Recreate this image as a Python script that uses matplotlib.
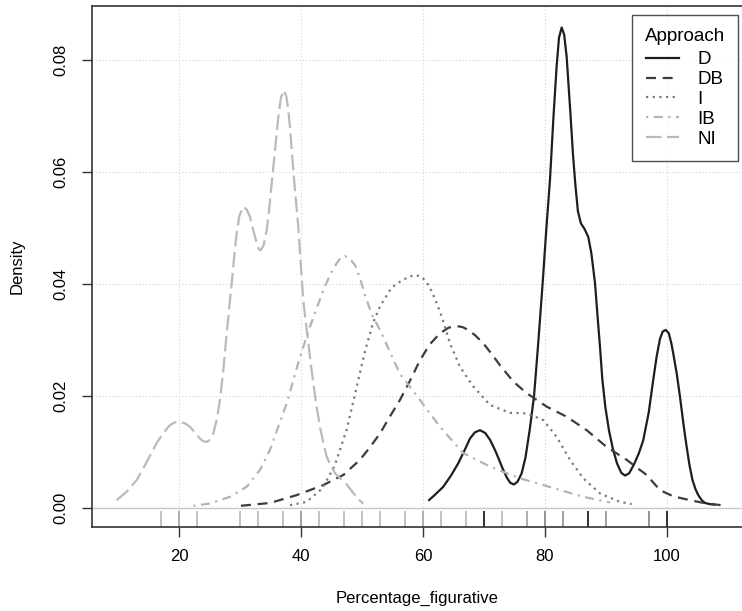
import matplotlib
matplotlib.use("Agg")
import matplotlib.pyplot as plt
from matplotlib.lines import Line2D
import matplotlib.transforms as mtransforms

plt.rcParams['font.family'] = ['Liberation Sans', 'DejaVu Sans']

# ---------------- data ----------------
groups = ["D", "DB", "I", "IB", "NI"]

d_x = [60.87, 62.0, 63.33, 64.6, 65.79, 66.9, 67.7, 68.5, 69.34, 70.2, 70.98, 71.7, 72.34, 73.0,
       73.72, 74.3, 74.9, 75.5, 76.18, 76.8, 77.5, 78.2, 78.9, 79.62, 80.2, 80.82, 81.4, 81.92,
       82.3, 82.74, 83.15, 83.56, 84.2, 84.6, 85.0, 85.4, 85.9, 86.5, 87.1, 87.6, 88.2, 88.6,
       89.02, 89.4, 89.9, 90.5, 91.15, 91.8, 92.5, 93.11, 93.8, 94.6, 95.4, 96.11, 97.0, 97.75,
       98.3, 98.85, 99.3, 99.79, 100.3, 100.7, 101.03, 101.6, 102.13, 102.7, 103.23, 103.7,
       104.18, 104.7, 105.13, 105.7, 106.23, 107.0, 107.9]
d_y = [0.0013, 0.0024, 0.0038, 0.0058, 0.0080, 0.0105, 0.0124, 0.0135, 0.0139, 0.0134, 0.0122,
       0.0106, 0.0090, 0.0072, 0.0055, 0.0045, 0.0042, 0.0047, 0.0062, 0.0090, 0.0140, 0.0199,
       0.0295, 0.0402, 0.0495, 0.0586, 0.0700, 0.0790, 0.0840, 0.0858, 0.0845, 0.0805, 0.0700,
       0.0630, 0.0575, 0.0530, 0.0508, 0.0498, 0.0484, 0.0455, 0.0402, 0.0345, 0.0288, 0.0230,
       0.0180, 0.0138, 0.0105, 0.0080, 0.0063, 0.0058, 0.0062, 0.0078, 0.0098, 0.0121, 0.0170,
       0.0229, 0.0270, 0.0302, 0.0315, 0.0318, 0.0312, 0.0295, 0.0276, 0.0240, 0.0199, 0.0150,
       0.0109, 0.0076, 0.0050, 0.0033, 0.0023, 0.0014, 0.0009, 0.0007, 0.0006]

db_x = [30.16, 34.92, 39.29, 43.66, 46.94, 49.67, 51.2, 52.95, 54.5, 56.23, 58.0, 59.51, 61.1,
        62.79, 64.2, 65.52, 66.5, 67.43, 68.6, 69.89, 71.2, 72.62, 74.80, 77.0, 80.28, 83.56,
        86.84, 90.11, 93.39, 96.67, 98.85, 101.0, 103.77, 106.5, 109.79]
db_y = [0.0004, 0.0009, 0.0023, 0.0041, 0.0059, 0.0086, 0.0107, 0.0133, 0.0162, 0.0193, 0.0230,
        0.0264, 0.0292, 0.0312, 0.0322, 0.0325, 0.0323, 0.0318, 0.0308, 0.0294, 0.0276, 0.0255,
        0.0226, 0.0205, 0.0181, 0.0163, 0.0139, 0.0109, 0.0086, 0.0059, 0.0032, 0.0021, 0.0014,
        0.0008, 0.0004]

i_x = [38.2, 40.93, 43.5, 45.5, 47.5, 49.0, 50.5, 51.8, 52.95, 54.59, 55.4, 56.23, 57.5, 58.69,
       59.5, 60.33, 61.0, 61.69, 62.4, 63.07, 64.43, 66.07, 68.25, 70.98, 74.26, 77.0, 79.72,
       81.92, 84.10, 86.28, 89.02, 92.30, 94.21]
i_y = [0.0005, 0.0011, 0.0035, 0.0075, 0.0140, 0.0210, 0.0280, 0.0330, 0.0360, 0.0389, 0.0398,
       0.0404, 0.0412, 0.0416, 0.0414, 0.0407, 0.0396, 0.0380, 0.0362, 0.0342, 0.0294, 0.0252,
       0.0217, 0.0184, 0.0170, 0.0169, 0.0157, 0.0127, 0.0086, 0.0053, 0.0026, 0.0011, 0.0007]

ib_x = [22.35, 25.08, 28.36, 31.1, 33.28, 34.92, 37.66, 39.84, 41.48, 43.66, 44.8, 45.85, 46.5,
        47.2, 48.0, 48.85, 49.7, 50.49, 51.64, 52.95, 56.2, 59.5, 62.79, 66.61, 70.98, 75.9,
        79.72, 86.28, 90.66]
ib_y = [0.0004, 0.0008, 0.0020, 0.0038, 0.0068, 0.0104, 0.0187, 0.0270, 0.0324, 0.0389, 0.0417,
        0.0437, 0.0447, 0.0450, 0.0445, 0.0434, 0.0410, 0.0380, 0.0345, 0.0318, 0.0240, 0.0193,
        0.0145, 0.0098, 0.0074, 0.0053, 0.0041, 0.0020, 0.0010]

ni_x = [9.79, 11.5, 13.07, 14.7, 16.34, 17.5, 18.52, 19.3, 20.16, 21.0, 21.8, 22.6, 23.44, 24.0,
        24.54, 25.1, 25.62, 26.2, 26.72, 27.3, 27.82, 28.64, 29.1, 29.46, 29.9, 30.54, 31.1,
        31.64, 32.2, 32.74, 33.1, 33.4, 33.9, 34.38, 34.8, 35.2, 35.74, 36.23, 36.7, 37.2, 37.6,
        37.87, 38.2, 38.48, 39.0, 39.56, 40.0, 40.38, 40.8, 41.2, 41.6, 42.02, 42.5, 43.11, 43.7,
        44.21, 44.9, 45.6, 46.5, 47.5, 48.5, 49.4, 50.2]
ni_y = [0.0014, 0.0030, 0.0050, 0.0082, 0.0116, 0.0135, 0.0148, 0.0153, 0.0154, 0.0151, 0.0145,
        0.0135, 0.0124, 0.0119, 0.0118, 0.0122, 0.0133, 0.0158, 0.0193, 0.0250, 0.0312, 0.0401,
        0.0455, 0.0491, 0.0522, 0.0538, 0.0533, 0.0520, 0.0495, 0.0473, 0.0462, 0.0460, 0.0470,
        0.0496, 0.0535, 0.0580, 0.0639, 0.0693, 0.0732, 0.0746, 0.0735, 0.0715, 0.0680, 0.0639,
        0.0570, 0.0502, 0.0430, 0.0371, 0.0330, 0.0295, 0.0258, 0.0223, 0.0185, 0.0145, 0.0115,
        0.0092, 0.0075, 0.0062, 0.0052, 0.0042, 0.0028, 0.0016, 0.0008]

rug_values = [17, 20, 23, 30, 33, 37, 40, 43, 47, 50, 53, 57, 60, 63, 67, 70, 73, 77, 80, 83, 87, 90, 97, 100]
rug_colors = ["#bdbdbd", "#a8a8a8", "#bdbdbd", "#bdbdbd", "#bdbdbd", "#bdbdbd", "#9a9a9a", "#bdbdbd",
              "#bdbdbd", "#bdbdbd", "#bdbdbd", "#bdbdbd", "#a8a8a8", "#bdbdbd", "#bdbdbd", "#222222",
              "#bdbdbd", "#a8a8a8", "#8a8a8a", "#999999", "#222222", "#999999", "#8a8a8a", "#222222"]

x_ticks = [20, 40, 60, 80, 100]
y_ticks = [0.00, 0.02, 0.04, 0.06, 0.08]
y_tick_labels = ["0.00", "0.02", "0.04", "0.06", "0.08"]

# ---------------- styles ----------------
styles = {
    "D":  dict(color="#1e1e1e", ls="-", lw=1.6),
    "DB": dict(color="#3c3c3c", ls=(0, (4.5, 3)), lw=1.6),
    "I":  dict(color="#7a7a7a", ls=(0, (1, 2)), lw=1.6),
    "IB": dict(color="#b4b4b4", ls=(0, (1, 2.5, 4, 2.5)), lw=1.6),
    "NI": dict(color="#bababa", ls=(0, (7, 2.5)), lw=1.6),
}
series = {"D": (d_x, d_y), "DB": (db_x, db_y), "I": (i_x, i_y), "IB": (ib_x, ib_y), "NI": (ni_x, ni_y)}

W, H = 742, 611
fig = plt.figure(figsize=(W / 100, H / 100), dpi=100)
ax = fig.add_axes([92 / W, (H - 527) / H, (742 - 92) / W, (527 - 6) / H])

ax.set_xlim(5.74, 112.3)
ax.set_ylim(-0.00339, 0.08964)

# grid
for xv in x_ticks:
    ax.axvline(xv, color="#d3d3d3", lw=0.8, ls=(0, (1, 2)), zorder=0)
for yv in y_ticks[1:]:
    ax.axhline(yv, color="#d3d3d3", lw=0.8, ls=(0, (1, 2)), zorder=0)
ax.axhline(0, color="#c8c8c8", lw=1.0, zorder=1)

# rug
trans = mtransforms.blended_transform_factory(ax.transData, ax.transAxes)
ax.vlines(rug_values, 0, (527 - 511) / (527 - 6), colors=rug_colors, lw=1.3, transform=trans, zorder=2)

for g in groups:
    xs, ys = series[g]
    ax.plot(xs, ys, solid_capstyle="butt", dash_capstyle="butt", solid_joinstyle="round",
            zorder=3, **styles[g])

# spines
for s in ["left", "top", "bottom"]:
    ax.spines[s].set_color("#333333")
    ax.spines[s].set_linewidth(1.2)
ax.spines["right"].set_visible(False)

ax.set_xticks(x_ticks)
ax.set_xticklabels([str(v) for v in x_ticks], fontsize=12)
ax.set_yticks(y_ticks)
ax.set_yticklabels(y_tick_labels, fontsize=12, rotation=90, va="center")
ax.tick_params(axis="both", length=7, width=1.0, color="#333333", direction="out", pad=9)
ax.tick_params(axis="y", pad=10)

ax.set_xlabel("Percentage_figurative", fontsize=12, labelpad=19)
ax.set_ylabel("Density", fontsize=12, labelpad=21)

# legend
handles = [Line2D([0], [0], **styles[g]) for g in groups]
leg = ax.legend(handles, groups, title="Approach", loc="upper right",
                bbox_to_anchor=((738 - 92) / (742 - 92), (527 - 15) / (527 - 6)),
                borderaxespad=0,
                fontsize=13.5, title_fontsize=13.5, frameon=True, fancybox=False,
                handlelength=1.75, handletextpad=0.95, labelspacing=0.14, borderpad=0.7,
                alignment="center")
leg._legend_box.sep = 4.5
leg.get_frame().set_edgecolor("#222222")
leg.get_frame().set_linewidth(1.0)

fig.savefig("out.png", dpi=100)
